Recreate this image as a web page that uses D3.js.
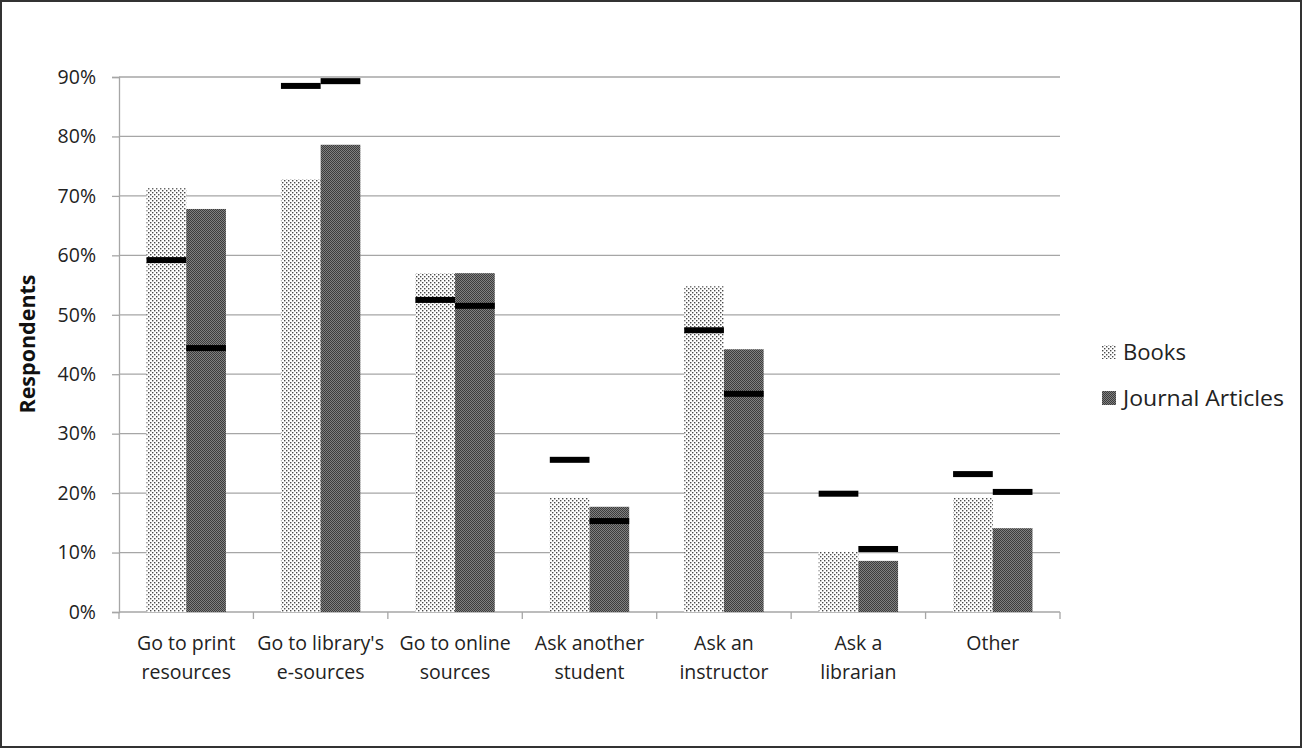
<!DOCTYPE html>
<html><head><meta charset="utf-8">
<script src="https://cdn.jsdelivr.net/npm/d3@7"></script>
<style>body{margin:0;background:#fff}svg{display:block}</style>
</head><body>
<svg id="c" width="1303" height="749"></svg>
<script>
const categories = [["Go to print","resources"],["Go to library's","e-sources"],["Go to online","sources"],["Ask another","student"],["Ask an","instructor"],["Ask a","librarian"],["Other"]];
const seriesNames = ["Books","Journal Articles"];
const booksValues = [71.3,72.8,57.0,19.2,54.8,10.1,19.2];
const journalValues = [67.8,78.6,57.0,17.7,44.2,8.6,14.1];
const booksMarkers = [59.2,88.5,52.5,25.6,47.4,19.9,23.2];
const journalMarkers = [44.4,89.3,51.5,15.3,36.7,10.6,20.2];
const yTicks = [0,10,20,30,40,50,60,70,80,90];

(function(){
const svg = d3.select("#c");
const font = "'Open Sans', 'Noto Sans', sans-serif";
const defs = svg.append("defs");
const pb = defs.append("pattern").attr("id","pBooks").attr("patternUnits","userSpaceOnUse").attr("width",4).attr("height",4);
pb.append("rect").attr("width",4).attr("height",4).attr("fill","#fff");
pb.append("rect").attr("x",0).attr("y",0).attr("width",1.4).attr("height",1.4).attr("fill","#4a4a4a");
pb.append("rect").attr("x",2).attr("y",2).attr("width",1.4).attr("height",1.4).attr("fill","#4a4a4a");
const pj = defs.append("pattern").attr("id","pJournal").attr("patternUnits","userSpaceOnUse").attr("width",2).attr("height",2);
pj.append("rect").attr("width",2).attr("height",2).attr("fill","#808080");
pj.append("rect").attr("x",0).attr("y",0).attr("width",1).attr("height",1).attr("fill","#3c3c3c");
pj.append("rect").attr("x",1).attr("y",1).attr("width",1).attr("height",1).attr("fill","#3c3c3c");

svg.append("rect").attr("x",1).attr("y",1).attr("width",1300).attr("height",746)
  .attr("fill","#fff").attr("stroke","#333").attr("stroke-width",2);

const pL=119, pR=1060, pT=77, pB=612;
const x = d3.scaleBand().domain(d3.range(categories.length)).range([pL,pR]).paddingInner(0).paddingOuter(0);
const y = d3.scaleLinear().domain([0,90]).range([pB,pT]);
const barW = 39.7;

svg.append("g").selectAll("line").data(yTicks.filter(d=>d>0)).join("line")
  .attr("x1",pL).attr("x2",pR).attr("y1",d=>y(d)).attr("y2",d=>y(d))
  .attr("stroke","#a6a6a6").attr("stroke-width",1.3);

const yAxis = svg.append("g").attr("transform",`translate(${pL},0)`)
  .call(d3.axisLeft(y).tickValues(yTicks).tickFormat(d=>d+"%").tickSize(7).tickPadding(16));
yAxis.select(".domain").attr("stroke","#a6a6a6").attr("stroke-width",1.3);
yAxis.selectAll(".tick line").attr("stroke","#a6a6a6").attr("stroke-width",1.3);
yAxis.selectAll("text").attr("font-family",font).attr("font-size",19.5).attr("fill","#222");

const xAxisG = svg.append("g").attr("transform",`translate(0,${pB})`);
xAxisG.append("line").attr("x1",pL).attr("x2",pR).attr("stroke","#a6a6a6").attr("stroke-width",1.3);
xAxisG.selectAll("line.t").data(d3.range(categories.length+1)).join("line").attr("class","t")
  .attr("x1",d=>pL+d*x.bandwidth()).attr("x2",d=>pL+d*x.bandwidth()).attr("y1",0).attr("y2",7)
  .attr("stroke","#a6a6a6").attr("stroke-width",1.3);
const lbl = xAxisG.selectAll("text").data(categories).join("text")
  .attr("x",(d,i)=>x(i)+x.bandwidth()/2).attr("y",38)
  .attr("text-anchor","middle").attr("font-family",font).attr("font-size",19.5).attr("fill","#222");
lbl.each(function(d){
  const t=d3.select(this);
  d.forEach((s,k)=>t.append("tspan").attr("x",t.attr("x")).attr("dy",k?29:0).text(s));
});

const g = svg.append("g");
const cx = i => x(i)+x.bandwidth()/2;
g.selectAll("rect.b").data(booksValues).join("rect").attr("class","b")
  .attr("x",(d,i)=>cx(i)-barW).attr("width",barW).attr("y",d=>y(d)).attr("height",d=>pB-y(d))
  .attr("fill","url(#pBooks)");
g.selectAll("rect.j").data(journalValues).join("rect").attr("class","j")
  .attr("x",(d,i)=>cx(i)).attr("width",barW).attr("y",d=>y(d)).attr("height",d=>pB-y(d))
  .attr("fill","url(#pJournal)");
g.selectAll("rect.mb").data(booksMarkers).join("rect").attr("class","mb")
  .attr("x",(d,i)=>cx(i)-barW).attr("width",barW).attr("y",d=>y(d)-3).attr("height",6).attr("fill","#000");
g.selectAll("rect.mj").data(journalMarkers).join("rect").attr("class","mj")
  .attr("x",(d,i)=>cx(i)).attr("width",barW).attr("y",d=>y(d)-3).attr("height",6).attr("fill","#000");

svg.append("text").attr("transform","translate(35,344) rotate(-90)").attr("text-anchor","middle")
  .attr("font-family",font).attr("font-size",21.5).attr("font-weight","bold").attr("fill","#111").text("Respondents");

const leg = svg.append("g");
const fills = ["url(#pBooks)","url(#pJournal)"];
seriesNames.forEach((n,i)=>{
  const yy = 352 + i*46;
  leg.append("rect").attr("x",1102).attr("y",yy-7).attr("width",14).attr("height",14).attr("fill",fills[i]);
  leg.append("text").attr("x",1123).attr("y",yy+7.5).attr("font-family",font).attr("font-size",21.5).attr("fill","#222")
    .attr("textLength", i? 161 : 63).attr("lengthAdjust","spacingAndGlyphs").text(n);
});
})();
</script>
</body></html>
